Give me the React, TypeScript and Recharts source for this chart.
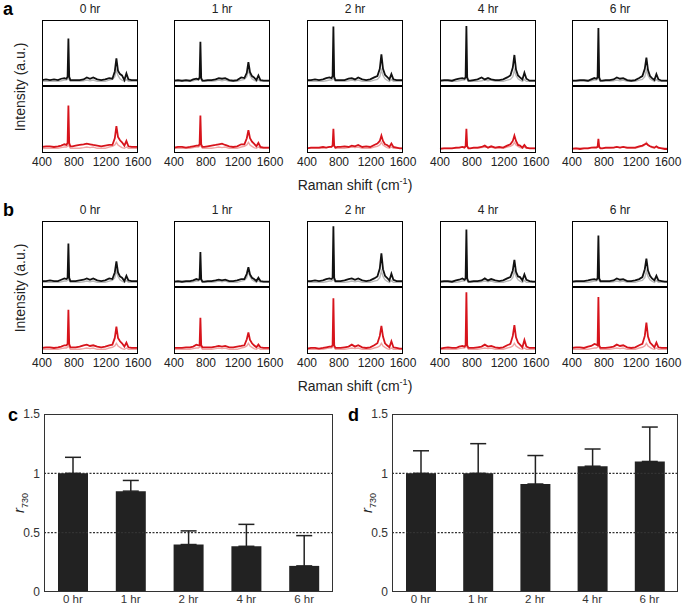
import { LineChart, Line, XAxis, YAxis, BarChart, Bar, ErrorBar, ReferenceLine } from 'recharts'

// Raman shift grid shared by every spectrum (cm-1)
const shift = [400, 450, 500, 550, 600, 640, 680, 705, 720, 730, 740, 755, 780, 820, 870, 920, 960, 1000, 1040, 1090, 1140, 1190, 1240, 1280, 1310, 1330, 1350, 1375, 1400, 1430, 1455, 1480, 1520, 1560, 1600]

// panel a, upper (black) spectra
const aTop0 = [9, 10, 9, 10, 9, 11, 12, 11, 14, 72, 14, 9, 9, 9, 9, 10, 13, 11, 13, 10, 9, 10, 12, 11, 22, 42, 23, 18, 16, 9, 19, 10, 9, 9, 9]
const aTop1 = [8, 9, 8, 9, 8, 10, 11, 10, 13, 67, 12, 8, 8, 9, 9, 10, 12, 11, 12, 9, 8, 9, 13, 12, 20, 36, 21, 15, 13, 9, 16, 9, 8, 8, 8]
const aTop2 = [9, 9, 10, 9, 10, 12, 13, 12, 15, 90, 14, 9, 9, 9, 9, 11, 12, 10, 13, 10, 9, 10, 13, 15, 26, 48, 26, 17, 14, 10, 18, 10, 9, 9, 9]
const aTop4 = [8, 9, 9, 8, 10, 11, 12, 11, 13, 91, 13, 8, 8, 9, 10, 13, 10, 12, 10, 9, 9, 10, 13, 16, 28, 47, 25, 16, 13, 10, 20, 11, 8, 8, 8]
const aTop6 = [8, 8, 9, 9, 8, 10, 12, 11, 13, 88, 13, 8, 8, 9, 9, 10, 13, 11, 12, 9, 8, 9, 12, 15, 26, 43, 24, 15, 12, 9, 18, 10, 8, 8, 8]
// panel a, lower (red) spectra
const aBot0 = [9, 10, 10, 9, 10, 11, 13, 12, 15, 71, 15, 10, 10, 11, 12, 13, 14, 13, 12, 11, 10, 11, 12, 12, 22, 40, 24, 19, 16, 11, 18, 10, 9, 9, 9]
const aBot1 = [8, 9, 9, 8, 9, 10, 11, 11, 13, 56, 13, 9, 9, 10, 11, 12, 13, 14, 12, 10, 9, 10, 13, 13, 22, 34, 22, 17, 14, 10, 15, 9, 8, 8, 8]
const aBot2 = [7, 8, 8, 8, 9, 8, 9, 9, 11, 36, 11, 8, 9, 9, 10, 9, 11, 10, 12, 9, 10, 9, 12, 14, 18, 26, 18, 13, 12, 9, 14, 9, 8, 7, 7]
const aBot4 = [6, 7, 7, 7, 8, 8, 9, 8, 10, 36, 10, 7, 7, 8, 8, 9, 11, 8, 10, 8, 9, 8, 11, 13, 18, 26, 18, 12, 11, 8, 12, 8, 7, 7, 7]
const aBot6 = [6, 7, 6, 7, 7, 8, 8, 8, 9, 21, 9, 7, 7, 8, 8, 8, 9, 8, 9, 8, 8, 8, 10, 11, 13, 14, 12, 10, 9, 8, 10, 8, 7, 6, 6]
// panel b, upper (black) spectra
const bTop0 = [9, 9, 10, 9, 9, 11, 13, 12, 14, 66, 14, 9, 9, 9, 10, 11, 13, 11, 13, 10, 9, 10, 13, 12, 22, 39, 22, 16, 14, 9, 17, 10, 9, 9, 9]
const bTop1 = [8, 9, 8, 9, 9, 10, 12, 11, 12, 53, 12, 8, 8, 9, 9, 10, 11, 10, 11, 9, 9, 10, 12, 12, 20, 30, 19, 14, 12, 9, 14, 9, 8, 8, 8]
const bTop2 = [9, 9, 10, 9, 10, 12, 13, 12, 14, 92, 14, 9, 9, 9, 10, 12, 13, 11, 13, 10, 9, 10, 13, 16, 28, 51, 27, 17, 14, 10, 20, 11, 9, 9, 9]
const bTop4 = [8, 9, 9, 8, 10, 11, 13, 11, 13, 87, 13, 8, 8, 9, 9, 10, 13, 10, 12, 10, 9, 10, 13, 15, 25, 41, 23, 16, 15, 10, 19, 11, 9, 8, 8]
const bTop6 = [8, 9, 9, 9, 10, 11, 12, 11, 13, 78, 13, 9, 9, 9, 9, 10, 13, 11, 12, 9, 9, 10, 12, 15, 27, 43, 25, 17, 13, 10, 17, 10, 9, 8, 8]
// panel b, lower (red) spectra
const bBot0 = [9, 10, 10, 9, 10, 11, 13, 13, 15, 66, 15, 10, 10, 10, 11, 13, 14, 12, 13, 11, 10, 11, 13, 14, 24, 41, 24, 19, 16, 11, 17, 10, 9, 9, 9]
const bBot1 = [9, 9, 9, 10, 10, 11, 14, 13, 13, 54, 13, 10, 10, 10, 10, 11, 12, 11, 12, 10, 10, 11, 12, 13, 22, 32, 21, 16, 13, 10, 14, 10, 9, 9, 9]
const bBot2 = [8, 9, 9, 8, 9, 10, 11, 11, 13, 83, 13, 9, 9, 9, 10, 11, 14, 11, 13, 10, 9, 10, 13, 16, 27, 42, 26, 16, 13, 10, 19, 10, 9, 8, 8]
const bBot4 = [8, 9, 10, 9, 9, 11, 12, 11, 13, 92, 13, 9, 9, 9, 10, 11, 14, 11, 12, 10, 9, 10, 13, 15, 27, 43, 25, 17, 14, 10, 21, 11, 9, 9, 9]
const bBot6 = [9, 10, 10, 9, 11, 12, 15, 14, 13, 85, 13, 9, 9, 9, 10, 11, 14, 12, 13, 10, 9, 10, 13, 15, 27, 47, 26, 17, 14, 10, 17, 10, 9, 9, 9]
// faint reference traces under the main ones
const grayTop = [7, 7, 7, 7, 7, 8, 9, 9, 10, 18, 10, 7, 7, 7, 7, 8, 9, 8, 9, 7, 7, 7, 9, 10, 14, 24, 16, 11, 9, 7, 10, 7, 7, 7, 7]
const pinkBot = [7, 7, 7, 7, 7, 8, 9, 9, 10, 14, 10, 7, 7, 7, 7, 8, 9, 8, 9, 7, 7, 7, 9, 10, 12, 16, 12, 10, 8, 7, 9, 7, 7, 7, 7]

const hours = ['0 hr', '1 hr', '2 hr', '4 hr', '6 hr']
const aTops = [aTop0, aTop1, aTop2, aTop4, aTop6]
const aBots = [aBot0, aBot1, aBot2, aBot4, aBot6]
const bTops = [bTop0, bTop1, bTop2, bTop4, bTop6]
const bBots = [bBot0, bBot1, bBot2, bBot4, bBot6]
const shiftTicks = [400, 800, 1200, 1600]

// panels c and d
const ratioC = [1.0, 0.85, 0.4, 0.385, 0.22]
const upperC = [1.135, 0.94, 0.515, 0.57, 0.475]
const ratioD = [1.0, 1.0, 0.91, 1.06, 1.1]
const upperD = [1.19, 1.25, 1.15, 1.205, 1.39]
const ratioTicks = [0, 0.5, 1, 1.5]

const BOX_W = 96
const TOP_H = 66
const BOT_H = 67
const boxLeft = [42, 174, 307, 440, 572]
const font = '"Liberation Sans", Arial, sans-serif'

function Spectra({ left, top, title, upper, lower }) {
  const upRows = shift.map((x, i) => ({ x, v: upper[i], g: grayTop[i] }))
  const lowRows = shift.map((x, i) => ({ x, v: lower[i], g: pinkBot[i] }))
  return (
    <div style={{ position: 'absolute', left, top, width: BOX_W, height: TOP_H + BOT_H }}>
      <div style={{ position: 'absolute', top: -18, left: 0, width: BOX_W, textAlign: 'center', fontSize: 12, color: '#222' }}>
        {title}
      </div>
      <div style={{ position: 'absolute', left: 0, top: 0 }}>
        <LineChart width={BOX_W} height={TOP_H} data={upRows} margin={{ top: 0, right: 0, bottom: 0, left: 0 }}>
          <XAxis dataKey="x" type="number" domain={[400, 1600]} ticks={[800, 1200]} height={0} mirror
            tick={false} axisLine={false} tickSize={4} tickLine={{ stroke: '#000', strokeWidth: 1.2 }} />
          <YAxis hide domain={[0, 100]} />
          <Line dataKey="g" type="linear" stroke="#b8b8b8" strokeWidth={1.4} dot={false} isAnimationActive={false} />
          <Line dataKey="v" type="linear" stroke="#111" strokeWidth={1.8} dot={false} isAnimationActive={false} />
        </LineChart>
      </div>
      <div style={{ position: 'absolute', left: -20, top: TOP_H }}>
        <LineChart width={BOX_W + 40} height={BOT_H + 20} data={lowRows} margin={{ top: 0, right: 20, bottom: 0, left: 20 }}>
          <XAxis dataKey="x" type="number" domain={[400, 1600]} ticks={shiftTicks} interval={0} height={20}
            tickLine={false} axisLine={false} tickSize={2} tickMargin={2} tick={{ fontSize: 12, fill: '#222' }} />
          <YAxis hide domain={[0, 100]} />
          <Line dataKey="g" type="linear" stroke="#f0a4a4" strokeWidth={1.4} dot={false} isAnimationActive={false} />
          <Line dataKey="v" type="linear" stroke="#d7141c" strokeWidth={1.8} dot={false} isAnimationActive={false} />
        </LineChart>
      </div>
      <div style={{ position: 'absolute', left: 0, top: 0, width: BOX_W, height: TOP_H + BOT_H, border: '1.5px solid #000', boxSizing: 'border-box', pointerEvents: 'none' }} />
      <div style={{ position: 'absolute', left: 0, top: TOP_H - 0.75, width: BOX_W, height: 1.5, background: '#000' }} />
    </div>
  )
}

function SpectraRow({ top, tops, bots, letter }) {
  return (
    <>
      <div style={{ position: 'absolute', left: 3, top: top - 20, fontSize: 18, fontWeight: 'bold', lineHeight: 1.1 }}>{letter}</div>
      {hours.map((h, i) => (
        <Spectra key={h} left={boxLeft[i]} top={top} title={h} upper={tops[i]} lower={bots[i]} />
      ))}
      <div style={{ position: 'absolute', left: 20, top: top + 67, transform: 'translate(-50%, -50%) rotate(-90deg)', fontSize: 14, whiteSpace: 'nowrap', color: '#222' }}>
        Intensity (a.u.)
      </div>
      <div style={{ position: 'absolute', left: 255, width: 200, top: top + 156, textAlign: 'center', fontSize: 14, color: '#222' }}>
        Raman shift (cm<sup style={{ fontSize: 9 }}>-1</sup>)
      </div>
    </>
  )
}

function RatioChart({ left, letter, ratio, upper, marginLeft, marginRight }) {
  const rows = hours.map((h, i) => ({ h, r: ratio[i], err: [0, upper[i] - ratio[i]] }))
  const W = 345
  const H = 207
  const frameLeft = marginLeft + 30
  const frameW = W - frameLeft - marginRight
  return (
    <div style={{ position: 'absolute', left, top: 400, width: W, height: H }}>
      <div style={{ position: 'absolute', left: 8, top: 6, fontSize: 18, fontWeight: 'bold', lineHeight: 1 }}>{letter}</div>
      <BarChart width={W} height={H} data={rows} margin={{ top: 14, right: marginRight, bottom: 0, left: marginLeft }} barSize={30}>
        <XAxis dataKey="h" height={15} tickLine={false} axisLine={false} tickSize={1} tickMargin={2} interval={0}
          tick={{ fontSize: 11.5, fill: '#333' }} />
        <YAxis domain={[0, 1.5]} ticks={ratioTicks} width={30} tickLine={false} axisLine={false} tickSize={3} tickMargin={1}
          tick={{ fontSize: 12, fill: '#333' }} tickFormatter={(v) => String(v)} />
        <ReferenceLine y={1} stroke="#333" strokeWidth={1.3} strokeDasharray="2 1.5" />
        <ReferenceLine y={0.5} stroke="#333" strokeWidth={1.3} strokeDasharray="2 1.5" />
        <Bar dataKey="r" fill="#222" isAnimationActive={false}>
          <ErrorBar dataKey="err" width={8} stroke="#222" strokeWidth={1.5} direction="y" />
        </Bar>
      </BarChart>
      <div style={{ position: 'absolute', left: frameLeft, top: 14, width: frameW, height: H - 14 - 15, border: '1.5px solid #333', boxSizing: 'border-box', pointerEvents: 'none' }} />
      <div style={{ position: 'absolute', left: frameLeft - 24, top: 103, transform: 'translate(-50%, -50%) rotate(-90deg)', fontSize: 15, whiteSpace: 'nowrap', color: '#222' }}>
        <span style={{ fontStyle: 'italic' }}>r</span>
        <sub style={{ fontSize: 9 }}>730</sub>
      </div>
    </div>
  )
}

export default function App() {
  return (
    <div style={{ position: 'absolute', left: 0, top: 0, width: 685, height: 607, background: '#fff', fontFamily: font, overflow: 'hidden' }}>
      <SpectraRow top={20} tops={aTops} bots={aBots} letter="a" />
      <SpectraRow top={221} tops={bTops} bots={bBots} letter="b" />
      <RatioChart left={0} letter="c" ratio={ratioC} upper={upperC} marginLeft={14} marginRight={12} />
      <RatioChart left={340} letter="d" ratio={ratioD} upper={upperD} marginLeft={22} marginRight={7} />
    </div>
  )
}
